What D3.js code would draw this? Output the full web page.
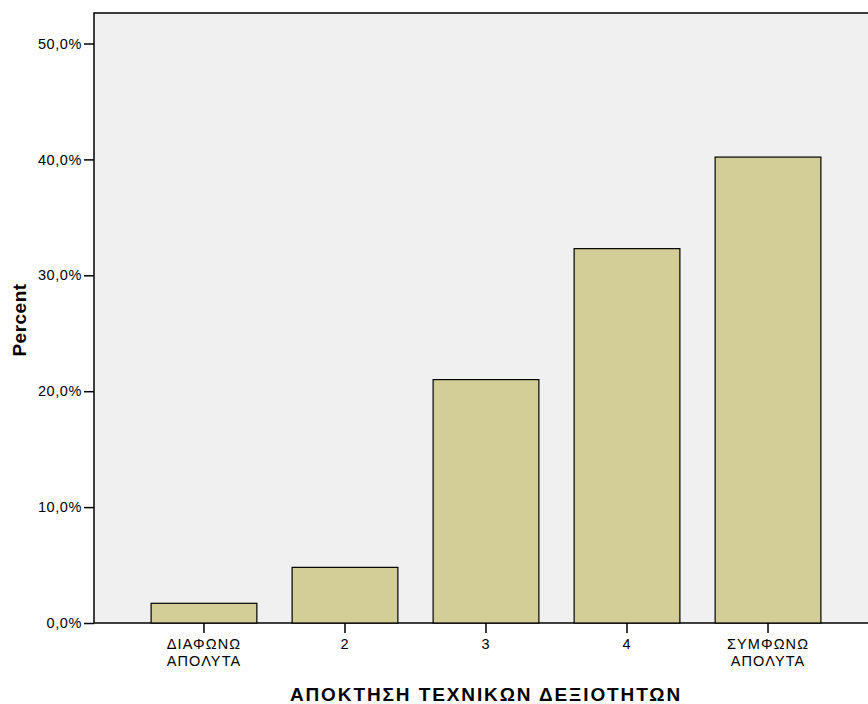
<!DOCTYPE html>
<html><head><meta charset="utf-8">
<script src="https://cdn.jsdelivr.net/npm/d3@7"></script>
<style>body{margin:0;background:#fff}svg{display:block}text{font-family:"Liberation Sans",Arial,sans-serif}</style>
</head><body><svg id="c" width="868" height="704"></svg>
<script>
const categories = [["ΔΙΑΦΩΝΩ","ΑΠΟΛΥΤΑ"],["2"],["3"],["4"],["ΣΥΜΦΩΝΩ","ΑΠΟΛΥΤΑ"]];
const percents = [1.7, 4.8, 21.0, 32.3, 40.2];
const yTicks = [0,10,20,30,40,50];
const xTitle = "ΑΠΟΚΤΗΣΗ ΤΕΧΝΙΚΩΝ ΔΕΞΙΟΤΗΤΩΝ";
const yTitle = "Percent";

const svg = d3.select("#c");
const L = 94, T = 13, R = 878, B = 623;
const x = d3.scaleBand().domain(d3.range(categories.length)).range([L, R]).paddingInner(0.25).paddingOuter(0.405);
const y = d3.scaleLinear().domain([0, 50]).range([B, 43.5]);

svg.append("rect").attr("x", L).attr("y", T).attr("width", R - L).attr("height", B - T)
  .attr("fill", "#f0f0f0").attr("stroke", "#000").attr("stroke-width", 1.5);

svg.selectAll(".bar").data(percents).join("rect")
  .attr("x", (d, i) => x(i)).attr("width", x.bandwidth())
  .attr("y", d => y(d)).attr("height", d => B - y(d))
  .attr("fill", "#d3ce98").attr("stroke", "#000").attr("stroke-width", 1.2);

const ya = svg.append("g").attr("transform", `translate(${L},0)`)
  .call(d3.axisLeft(y).tickValues(yTicks).tickSize(10).tickPadding(2)
    .tickFormat(d => d.toFixed(1).replace(".", ",") + "%"));
ya.select(".domain").remove();
ya.selectAll("line").attr("stroke", "#000").attr("stroke-width", 1.5);
ya.selectAll("text").attr("font-size", 14.5).attr("letter-spacing", 0.6).attr("fill", "#000");

const xa = svg.append("g").attr("transform", `translate(0,${B})`)
  .call(d3.axisBottom(x).tickSize(10).tickFormat(""));
xa.select(".domain").remove();
xa.selectAll("line").attr("stroke", "#000").attr("stroke-width", 1.5);
xa.selectAll(".tick").each(function(d) {
  const t = d3.select(this).append("text").attr("fill", "#000").attr("font-size", 14.5)
    .attr("letter-spacing", 1.1).attr("text-anchor", "middle");
  categories[d].forEach((s, k) => t.append("tspan").attr("x", 0).attr("y", 26 + k * 16.5).text(s));
});

svg.append("text").attr("x", 486).attr("y", 701).attr("text-anchor", "middle")
  .attr("font-size", 19).attr("letter-spacing", 1.9).attr("font-weight", "bold").text(xTitle);
svg.append("text").attr("transform", "translate(26,320) rotate(-90)").attr("text-anchor", "middle")
  .attr("font-size", 19).attr("letter-spacing", 0.5).attr("font-weight", "bold").text(yTitle);
</script></body></html>
